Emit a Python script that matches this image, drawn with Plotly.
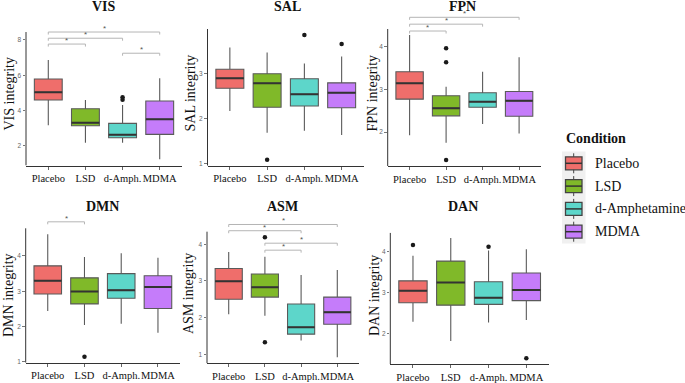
import plotly.graph_objects as go

W, H = 685, 383

conditions = ["Placebo", "LSD", "d-Amphetamine", "MDMA"]
tick_labels = ["Placebo", "LSD", "d-Amph.", "MDMA"]
colors = ["#EF6E6B", "#80B929", "#5DD6CA", "#C57CFA"]

# ---- box statistics, order: Placebo, LSD, d-Amph., MDMA ----
vis_low = [3.17, 2.19, 2.19, 1.25]
vis_q1 = [4.60, 3.15, 2.47, 2.66]
vis_med = [5.04, 3.32, 2.64, 3.51]
vis_q3 = [5.79, 4.11, 3.28, 4.55]
vis_high = [6.87, 4.60, 4.32, 5.83]
vis_out = [[], [], [4.76, 4.62], []]
vis_sig = [[0, 3, 8.45], [0, 2, 8.10], [0, 1, 7.77], [2, 3, 7.25]]
vis_ticks = [2, 4, 6, 8]

sal_low = [2.17, 1.69, 1.73, 1.64]
sal_q1 = [2.67, 2.25, 2.28, 2.24]
sal_med = [2.89, 2.78, 2.54, 2.57]
sal_q3 = [3.09, 2.99, 2.88, 2.79]
sal_high = [3.57, 3.46, 3.22, 3.37]
sal_out = [[], [1.09], [3.85], [3.65]]
sal_sig = []
sal_ticks = [1, 2, 3]

fpn_low = [1.93, 1.75, 2.19, 1.97]
fpn_q1 = [2.77, 2.38, 2.58, 2.37]
fpn_med = [3.14, 2.56, 2.71, 2.73]
fpn_q3 = [3.41, 2.85, 2.92, 2.95]
fpn_high = [4.27, 3.06, 3.41, 3.75]
fpn_out = [[], [3.96, 3.63, 1.35], [], []]
fpn_sig = [[0, 3, 4.68], [0, 2, 4.52], [0, 1, 4.36]]
fpn_ticks = [2, 3, 4]

dmn_low = [2.44, 2.04, 2.08, 1.82]
dmn_q1 = [2.92, 2.64, 2.80, 2.51]
dmn_med = [3.30, 2.99, 3.03, 3.12]
dmn_q3 = [3.72, 3.38, 3.50, 3.44]
dmn_high = [4.62, 3.97, 4.08, 3.95]
dmn_out = [[], [1.14], [], []]
dmn_sig = [[0, 1, 4.97]]
dmn_ticks = [1, 2, 3, 4]

asm_low = [2.09, 2.05, 1.38, 0.92]
asm_q1 = [2.50, 2.56, 1.55, 1.82]
asm_med = [2.99, 2.83, 1.74, 2.15]
asm_q3 = [3.34, 3.19, 2.37, 2.56]
asm_high = [3.79, 3.66, 3.16, 3.30]
asm_out = [[], [4.19, 1.33], [], []]
asm_sig = [[0, 3, 4.54], [0, 2, 4.37], [1, 3, 4.03], [1, 2, 3.84]]
asm_ticks = [1, 2, 3, 4]

dan_low = [2.30, 1.83, 2.28, 2.34]
dan_q1 = [2.76, 2.70, 2.72, 2.81]
dan_med = [3.05, 3.25, 2.88, 3.07]
dan_q3 = [3.29, 3.77, 3.27, 3.48]
dan_high = [3.90, 4.33, 4.03, 4.06]
dan_out = [[4.16], [], [4.12], [1.41]]
dan_sig = []
dan_ticks = [2, 3, 4]

# ---- panel geometry (pixels) ----
panels = [
    dict(title="VIS", stats=(vis_low, vis_q1, vis_med, vis_q3, vis_high), out=vis_out, sig=vis_sig, ticks=vis_ticks,
         px=(26, 182, 30, 165.5), yr=(0.896, 8.565), top=8.45, tpos=(104, 7), lpos=(8.5, 94)),
    dict(title="SAL", stats=(sal_low, sal_q1, sal_med, sal_q3, sal_high), out=sal_out, sig=sal_sig, ticks=sal_ticks,
         px=(207.5, 364, 29, 165.7), yr=(0.96, 3.98), top=3.98, tpos=(287, 7), lpos=(190, 93.5)),
    dict(title="FPN", stats=(fpn_low, fpn_q1, fpn_med, fpn_q3, fpn_high), out=fpn_out, sig=fpn_sig, ticks=fpn_ticks,
         px=(387.7, 541, 15, 166), yr=(1.21, 4.734), top=4.407, tpos=(462, 7), lpos=(371.5, 93)),
    dict(title="DMN", stats=(dmn_low, dmn_q1, dmn_med, dmn_q3, dmn_high), out=dmn_out, sig=dmn_sig, ticks=dmn_ticks,
         px=(25.7, 180, 219, 362.7), yr=(0.971, 5.05), top=4.786, tpos=(102, 206.7), lpos=(8, 295)),
    dict(title="ASM", stats=(asm_low, asm_q1, asm_med, asm_q3, asm_high), out=asm_out, sig=asm_sig, ticks=asm_ticks,
         px=(207, 359, 222, 363.3), yr=(0.755, 4.608), top=4.344, tpos=(282, 206.7), lpos=(188, 294)),
    dict(title="DAN", stats=(dan_low, dan_q1, dan_med, dan_q3, dan_high), out=dan_out, sig=dan_sig, ticks=dan_ticks,
         px=(390.3, 549, 232.7, 364), yr=(1.271, 4.46), top=4.46, tpos=(463, 206.7), lpos=(374, 295)),
]

SERIF = "Liberation Serif"
SANS = "Liberation Sans"
BOXW = 0.75

fig = go.Figure()
layout = dict(
    width=W, height=H, margin=dict(l=0, r=0, t=0, b=0), autosize=False,
    paper_bgcolor="white", plot_bgcolor="white", showlegend=False, boxmode="overlay",
)
shapes, annotations = [], []

def xpaper(px):
    return px / W

def ypaper(py):
    return 1 - py / H

for k, p in enumerate(panels):
    sfx = "" if k == 0 else str(k + 1)
    xa, ya = "x" + sfx, "y" + sfx
    x0, x1, yt, yb = p["px"]
    lo, hi = p["yr"]
    ppu = (yb - yt) / (hi - lo)
    low, q1, med, q3, high = p["stats"]
    for i in range(4):
        fig.add_trace(go.Box(
            x=[i], q1=[q1[i]], median=[med[i]], q3=[q3[i]],
            lowerfence=[low[i]], upperfence=[high[i]],
            width=BOXW, whiskerwidth=0, fillcolor=colors[i],
            line=dict(color="#5a5a5a", width=1.1), boxpoints=False,
            xaxis=xa, yaxis=ya, name=conditions[i], hoverinfo="skip",
        ))
        fig.add_trace(go.Scatter(
            x=[i - BOXW / 2, i + BOXW / 2], y=[med[i], med[i]], mode="lines",
            line=dict(color="#333333", width=2), xaxis=xa, yaxis=ya, hoverinfo="skip",
        ))
        if p["out"][i]:
            fig.add_trace(go.Scatter(
                x=[i] * len(p["out"][i]), y=p["out"][i], mode="markers",
                marker=dict(color="#1a1a1a", size=4.5), xaxis=xa, yaxis=ya, hoverinfo="skip",
            ))
    tip = 2.5 / ppu
    for a, b, v in p["sig"]:
        fig.add_trace(go.Scatter(
            x=[a, a, b, b], y=[v - tip, v, v, v - tip], mode="lines",
            line=dict(color="#b5b5b5", width=1), xaxis=xa, yaxis=ya, hoverinfo="skip",
        ))
        annotations.append(dict(
            x=(a + b) / 2, y=v, xref=xa, yref=ya, text="*", showarrow=False,
            font=dict(family=SANS, size=8, color="#555555"), yanchor="bottom", yshift=-3,
        ))
    layout["xaxis" + sfx] = dict(
        domain=[xpaper(x0), xpaper(x1)], anchor=ya, range=[-0.6, 3.6],
        tickvals=[0, 1, 2, 3], ticktext=tick_labels, tickangle=0, showline=True, linecolor="#333333",
        linewidth=1, ticks="outside", ticklen=3, tickcolor="#666666", showgrid=False,
        zeroline=False, automargin=False,
        tickfont=dict(family=SERIF, size=10.5, color="#111111"),
    )
    layout["yaxis" + sfx] = dict(
        domain=[ypaper(yb), ypaper(yt)], anchor=xa, range=[lo, hi],
        tickvals=p["ticks"], showline=False, ticks="outside", ticklen=2.5,
        tickcolor="#777777", showgrid=False, zeroline=False, automargin=False,
        tickfont=dict(family=SANS, size=6.5, color="#666666"),
    )
    shapes.append(dict(
        type="line", xref=xa + " domain", yref=ya, x0=0, x1=0, y0=lo, y1=p["top"],
        line=dict(color="#333333", width=1),
    ))
    tx, ty = p["tpos"]
    annotations.append(dict(
        x=xpaper(tx), y=ypaper(ty), xref="paper", yref="paper", text="<b>%s</b>" % p["title"],
        showarrow=False, font=dict(family=SERIF, size=14, color="#111111"),
        xanchor="center", yanchor="middle",
    ))
    lx, ly = p["lpos"]
    annotations.append(dict(
        x=xpaper(lx), y=ypaper(ly), xref="paper", yref="paper", text="%s integrity" % p["title"],
        textangle=-90, showarrow=False, font=dict(family=SERIF, size=14, color="#111111"),
        xanchor="center", yanchor="middle",
    ))

# ---- legend (drawn manually to mimic ggplot key glyphs) ----
annotations.append(dict(
    x=xpaper(564), y=ypaper(138.5), xref="paper", yref="paper", text="<b>Condition</b>",
    showarrow=False, font=dict(family=SERIF, size=14, color="#111111"),
    xanchor="left", yanchor="middle",
))
shapes.append(dict(type="rect", xref="paper", yref="paper",
                   x0=xpaper(562), x1=xpaper(585.5), y0=ypaper(243.5), y1=ypaper(151.5),
                   fillcolor="#f0f0f0", line=dict(width=0), layer="below"))
key_y = [163.3, 186.1, 208.9, 231.7]
for i, c in enumerate(conditions):
    cy = key_y[i]
    shapes.append(dict(type="line", xref="paper", yref="paper",
                       x0=xpaper(573.7), x1=xpaper(573.7), y0=ypaper(cy - 10), y1=ypaper(cy + 10),
                       line=dict(color="#444444", width=1)))
    shapes.append(dict(type="rect", xref="paper", yref="paper",
                       x0=xpaper(565.5), x1=xpaper(582), y0=ypaper(cy + 6.5), y1=ypaper(cy - 6.5),
                       fillcolor=colors[i], line=dict(color="#444444", width=1.3)))
    shapes.append(dict(type="line", xref="paper", yref="paper",
                       x0=xpaper(565.5), x1=xpaper(582), y0=ypaper(cy), y1=ypaper(cy),
                       line=dict(color="#333333", width=1.5)))
    annotations.append(dict(
        x=xpaper(592.5), y=ypaper(cy), xref="paper", yref="paper", text=c,
        showarrow=False, font=dict(family=SERIF, size=14, color="#111111"),
        xanchor="left", yanchor="middle",
    ))

layout["shapes"] = shapes
layout["annotations"] = annotations
fig.update_layout(**layout)
fig.write_html(
    "out.html",
    config={"displayModeBar": False},
    post_script="document.body.style.margin='0';document.body.style.padding='0';",
)
